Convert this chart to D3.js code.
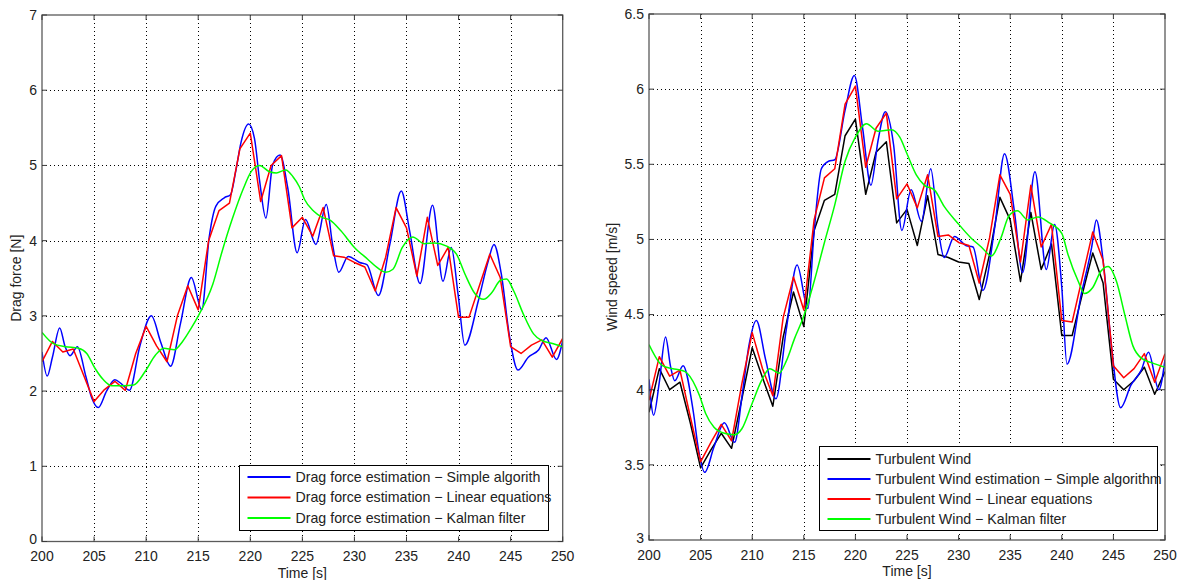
<!DOCTYPE html>
<html>
<head>
<meta charset="utf-8">
<script src="https://cdn.jsdelivr.net/npm/d3@7"></script>
<style>
  html, body { margin: 0; padding: 0; background: #fff; }
  svg { display: block; font-family: "Liberation Sans", Arial, Helvetica, sans-serif; }
</style>
</head>
<body>
<svg id="chart" width="1184" height="580"></svg>
<script>
// ---- time axis ----
const timeTicks = [200, 205, 210, 215, 220, 225, 230, 235, 240, 245, 250];
const seconds = d3.range(200, 251);

// ---- drag force panel ----
const dragTicks = [0, 1, 2, 3, 4, 5, 6, 7];

// Drag force estimation - Simple algorithm [time, N]
const dragSimple = [
  [200,2.52],[200.5,2.2],[201,2.45],[201.7,2.84],[202.2,2.6],[202.7,2.47],[203.4,2.59],
  [204.2,2.2],[204.8,1.9],[205.4,1.78],[206.2,2.0],[207,2.15],[207.6,2.1],[208.4,2.01],
  [209.4,2.6],[210.5,3.0],[211.4,2.65],[212.35,2.33],[213.3,2.9],[214.34,3.51],[215.34,3.08],
  [216.05,4.04],[216.7,4.46],[217.5,4.57],[218.1,4.61],[218.6,4.92],[219.1,5.30],[219.84,5.55],
  [220.4,5.36],[220.9,4.79],[221.5,4.30],[222.15,5.01],[222.86,5.14],[223.6,4.70],[224.5,3.84],
  [225.3,4.28],[226.3,3.95],[227.3,4.48],[227.9,3.95],[228.5,3.58],[229.4,3.79],[230.5,3.71],
  [231.2,3.68],[232.3,3.27],[233.4,3.95],[234.5,4.66],[235.3,4.13],[236.3,3.43],[237.5,4.47],
  [238.5,3.46],[239.3,3.91],[239.95,3.29],[240.6,2.61],[241.9,3.2],[242.85,3.73],[243.4,3.95],
  [244.1,3.56],[244.9,2.72],[245.7,2.28],[246.7,2.45],[247.7,2.55],[248.4,2.71],[249.4,2.42],
  [250,2.67]
];

// Drag force estimation - Linear equations, one value per second
const dragLinear = [
  2.39, 2.66, 2.52, 2.56, 2.21, 1.86, 2.02, 2.13, 2.01, 2.50,
  2.86, 2.60, 2.39, 3.00, 3.40, 3.08, 4.00, 4.40, 4.50, 5.22,
  5.43, 4.52, 5.00, 5.13, 4.17, 4.31, 4.06, 4.44, 3.80, 3.78,
  3.71, 3.65, 3.33, 3.78, 4.44, 4.17, 3.53, 4.31, 3.67, 3.91,
  2.98, 2.98, 3.40, 3.82, 3.51, 2.59, 2.50, 2.61, 2.68, 2.45,
  2.70
];

// Drag force estimation - Kalman filter [time, N]
const dragKalman = [
  [200,2.78],[201.1,2.63],[202.25,2.59],[203.5,2.57],[204.3,2.50],[205.1,2.30],[205.9,2.15],
  [206.7,2.07],[207.8,2.07],[208.8,2.08],[209.9,2.26],[210.9,2.48],[211.7,2.57],[212.7,2.55],
  [213.5,2.66],[214.3,2.83],[215.05,3.01],[216.4,3.42],[217.3,3.86],[218.3,4.30],[219.3,4.68],
  [220.1,4.92],[220.9,5.0],[221.8,4.92],[222.5,4.90],[223.4,4.94],[224.1,4.85],[224.7,4.72],
  [225.2,4.55],[226.1,4.39],[226.9,4.31],[227.7,4.27],[228.7,4.13],[230,3.91],[231.3,3.75],
  [232.2,3.64],[233,3.58],[233.7,3.62],[234.6,3.91],[235.6,4.05],[236.7,3.96],[237.7,3.97],
  [238.8,3.93],[239.8,3.82],[240.6,3.56],[241.6,3.29],[242.4,3.22],[243.2,3.31],[244,3.47],
  [244.6,3.49],[245.3,3.33],[246.2,3.03],[247.2,2.76],[248,2.67],[249.1,2.63],[250,2.59]
];

// ---- wind speed panel ----
const windTicks = [3, 3.5, 4, 4.5, 5, 5.5, 6, 6.5];

// Turbulent wind, one value per second
const windTrue = [
  3.85, 4.14, 4.00, 4.05, 3.78, 3.48, 3.60, 3.71, 3.61, 3.94,
  4.28, 4.08, 3.89, 4.35, 4.65, 4.42, 5.06, 5.26, 5.30, 5.69,
  5.80, 5.30, 5.58, 5.65, 5.11, 5.20, 4.96, 5.29, 4.90, 4.88,
  4.85, 4.84, 4.60, 4.90, 5.28, 5.13, 4.72, 5.18, 4.80, 4.97,
  4.36, 4.36, 4.64, 4.91, 4.71, 4.07, 4.00, 4.06, 4.15, 3.97,
  4.12
];

// Turbulent wind estimation - Simple algorithm [time, m/s]
const windSimple = [
  [200,4.07],[200.45,3.83],[201,4.05],[201.6,4.35],[202.1,4.15],[202.5,4.06],[203.3,4.16],
  [204.3,3.85],[204.8,3.6],[205.4,3.45],[206.3,3.62],[207.3,3.78],[208.3,3.65],[209,3.95],
  [209.7,4.3],[210.4,4.46],[211.3,4.2],[212.3,3.94],[213.3,4.4],[214.35,4.83],[215.4,4.54],
  [216,5.05],[216.7,5.47],[217.4,5.52],[218,5.53],[219,5.86],[219.9,6.09],[220.7,5.74],
  [221.5,5.36],[222.2,5.66],[222.9,5.85],[223.7,5.63],[224.5,5.06],[225.4,5.33],[226.4,5.12],
  [227.3,5.47],[228,5.08],[228.6,4.88],[229.6,5.02],[230.7,4.96],[231.4,4.95],[232.35,4.66],
  [233.5,5.08],[234.45,5.57],[235.4,5.19],[236.2,4.78],[237.4,5.45],[238.5,4.80],[239.3,5.10],
  [240,4.68],[240.5,4.17],[241.9,4.64],[242.9,4.95],[243.35,5.13],[244,4.86],[244.8,4.30],
  [245.7,3.88],[246.7,4.03],[247.7,4.13],[248.4,4.25],[249.4,4.0],[250,4.2]
];

// Turbulent wind - Linear equations, one value per second
const windLinear = [
  3.93, 4.22, 4.09, 4.13, 3.82, 3.52, 3.65, 3.77, 3.66, 4.04,
  4.38, 4.14, 3.96, 4.48, 4.75, 4.53, 5.13, 5.41, 5.47, 5.90,
  6.02, 5.48, 5.74, 5.84, 5.27, 5.37, 5.21, 5.43, 5.02, 5.03,
  4.98, 4.96, 4.71, 5.01, 5.43, 5.30, 4.85, 5.36, 4.95, 5.10,
  4.46, 4.45, 4.75, 5.05, 4.86, 4.16, 4.08, 4.14, 4.24, 4.05,
  4.24
];

// Turbulent wind - Kalman filter [time, m/s]
const windKalman = [
  [200,4.30],[201.3,4.16],[202.3,4.14],[203.1,4.13],[203.7,4.11],[204.9,3.96],[205.5,3.84],
  [206.3,3.75],[207.3,3.71],[208.3,3.70],[209,3.74],[210,3.91],[210.9,4.06],[211.7,4.14],
  [212.6,4.11],[213.3,4.19],[214.1,4.34],[215,4.49],[216,4.72],[217,4.98],[218,5.23],
  [219,5.52],[220,5.68],[221.07,5.77],[222.2,5.72],[223.5,5.73],[224.3,5.68],[225,5.57],
  [225.9,5.43],[226.7,5.36],[227.65,5.33],[228.6,5.22],[229.9,5.11],[231.2,5.01],[232.2,4.95],
  [233.2,4.89],[234.1,5.01],[234.9,5.16],[235.7,5.19],[236.7,5.13],[237.7,5.15],[238.8,5.11],
  [240,5.04],[240.6,4.90],[241.6,4.72],[242.2,4.64],[243,4.68],[243.8,4.79],[244.5,4.82],
  [245.3,4.72],[246.1,4.50],[246.9,4.29],[247.7,4.21],[248.7,4.18],[250,4.15]
];

// ---- drawing ----
const svg = d3.select("#chart");
const BLUE = "#0000ff", RED = "#ff0000", GREEN = "#00ff00", BLACK = "#000000";
const TICK_FONT = 14, TITLE_FONT = 14, LEGEND_FONT = 14.2;

function perSecond(values) {
  return values.map((v, i) => [seconds[i], v]);
}

function drawPanel(opt) {
  const x = d3.scaleLinear().domain([200, 250]).range([opt.left, opt.right]);
  const y = d3.scaleLinear().domain(opt.yDomain).range([opt.bottom, opt.top]);
  const g = svg.append("g");

  // grid (dotted)
  const grid = g.append("g").attr("stroke", "#000").attr("stroke-width", 1)
    .attr("stroke-dasharray", "1,3").attr("shape-rendering", "crispEdges");
  grid.selectAll("line.v").data(timeTicks.slice(1, -1)).join("line")
    .attr("x1", d => Math.round(x(d)) + 0.5).attr("x2", d => Math.round(x(d)) + 0.5)
    .attr("y1", opt.top).attr("y2", opt.bottom);
  grid.selectAll("line.h").data(opt.yTicks.slice(1, -1)).join("line")
    .attr("x1", opt.left).attr("x2", opt.right)
    .attr("y1", d => Math.round(y(d)) + 0.5).attr("y2", d => Math.round(y(d)) + 0.5);

  // series
  const clipId = "clip" + opt.id;
  g.append("clipPath").attr("id", clipId).append("rect")
    .attr("x", opt.left).attr("y", opt.top)
    .attr("width", opt.right - opt.left).attr("height", opt.bottom - opt.top);
  const plot = g.append("g").attr("clip-path", `url(#${clipId})`);
  opt.series.forEach(s => {
    const line = d3.line().x(d => x(d[0])).y(d => y(d[1]))
      .curve(s.smooth ? d3.curveMonotoneX : d3.curveLinear);
    plot.append("path").datum(s.data)
      .attr("fill", "none").attr("stroke", s.color).attr("stroke-width", 1.5)
      .attr("stroke-linejoin", "round").attr("d", line);
  });

  // axes box
  g.append("rect").attr("x", opt.left).attr("y", opt.top)
    .attr("width", opt.right - opt.left).attr("height", opt.bottom - opt.top)
    .attr("fill", "none").attr("stroke", "#5a5a5a").attr("stroke-width", 1.3);

  // inward ticks on all four sides
  const tk = g.append("g").attr("stroke", "#3a3a3a").attr("stroke-width", 1);
  timeTicks.forEach(t => {
    tk.append("line").attr("x1", x(t)).attr("x2", x(t)).attr("y1", opt.bottom).attr("y2", opt.bottom - 5);
    tk.append("line").attr("x1", x(t)).attr("x2", x(t)).attr("y1", opt.top).attr("y2", opt.top + 5);
  });
  opt.yTicks.forEach(v => {
    tk.append("line").attr("x1", opt.left).attr("x2", opt.left + 5).attr("y1", y(v)).attr("y2", y(v));
    tk.append("line").attr("x1", opt.right).attr("x2", opt.right - 5).attr("y1", y(v)).attr("y2", y(v));
  });

  // tick labels (the lowest y label sits a touch higher so it clears the first time label)
  g.append("g").selectAll("text").data(timeTicks).join("text")
    .attr("x", d => x(d)).attr("y", opt.bottom + 19.5)
    .attr("text-anchor", "middle").attr("font-size", TICK_FONT).attr("fill", "#222")
    .text(d => d);
  g.append("g").selectAll("text").data(opt.yTicks).join("text")
    .attr("x", opt.left - 5).attr("y", (d, i) => y(d) - (i === 0 ? 2 : 0)).attr("dy", "0.35em")
    .attr("text-anchor", "end").attr("font-size", TICK_FONT).attr("fill", "#222")
    .text(d => d);

  // axis titles
  g.append("text").attr("x", (opt.left + opt.right) / 2).attr("y", opt.bottom + 36)
    .attr("text-anchor", "middle").attr("font-size", TITLE_FONT).attr("fill", "#222").text("Time [s]");
  g.append("text")
    .attr("transform", `translate(${opt.yTitleX},${(opt.top + opt.bottom) / 2}) rotate(-90)`)
    .attr("text-anchor", "middle").attr("font-size", TITLE_FONT).attr("fill", "#222").text(opt.yTitle);

  // legend
  const L = opt.legend;
  const lg = g.append("g");
  lg.append("rect").attr("x", L.x).attr("y", L.y).attr("width", L.w).attr("height", L.h)
    .attr("fill", "#fff").attr("stroke", "#000").attr("stroke-width", 1);
  opt.series.forEach((s, i) => {
    const yy = L.y + L.first + i * L.step;
    lg.append("line").attr("x1", L.x + 8).attr("x2", L.x + 51).attr("y1", yy).attr("y2", yy)
      .attr("stroke", s.color).attr("stroke-width", 2);
    lg.append("text").attr("x", L.x + 56).attr("y", yy).attr("dy", "0.35em")
      .attr("font-size", LEGEND_FONT).attr("fill", "#222").text(s.name);
  });
}

drawPanel({
  id: "drag",
  left: 42, right: 562.7, top: 15, bottom: 541.5,
  yDomain: [0, 7], yTicks: dragTicks,
  yTitle: "Drag force [N]", yTitleX: 21,
  series: [
    { name: "Drag force estimation \u2212 Simple algorith", color: BLUE, smooth: true, data: dragSimple },
    { name: "Drag force estimation \u2212 Linear equations", color: RED, smooth: false, data: perSecond(dragLinear) },
    { name: "Drag force estimation \u2212 Kalman filter", color: GREEN, smooth: true, data: dragKalman }
  ],
  legend: { x: 239.5, y: 465.5, w: 309, h: 65, first: 11.5, step: 20.5 }
});

drawPanel({
  id: "wind",
  left: 649, right: 1165, top: 14, bottom: 540,
  yDomain: [3, 6.5], yTicks: windTicks,
  yTitle: "Wind speed [m/s]", yTitleX: 617,
  series: [
    { name: "Turbulent Wind", color: BLACK, smooth: false, data: perSecond(windTrue) },
    { name: "Turbulent Wind estimation \u2212 Simple algorithm", color: BLUE, smooth: true, data: windSimple },
    { name: "Turbulent Wind \u2212 Linear equations", color: RED, smooth: false, data: perSecond(windLinear) },
    { name: "Turbulent Wind \u2212 Kalman filter", color: GREEN, smooth: true, data: windKalman }
  ],
  legend: { x: 819.5, y: 446.5, w: 338, h: 84, first: 12.5, step: 20 }
});
</script>
</body>
</html>
